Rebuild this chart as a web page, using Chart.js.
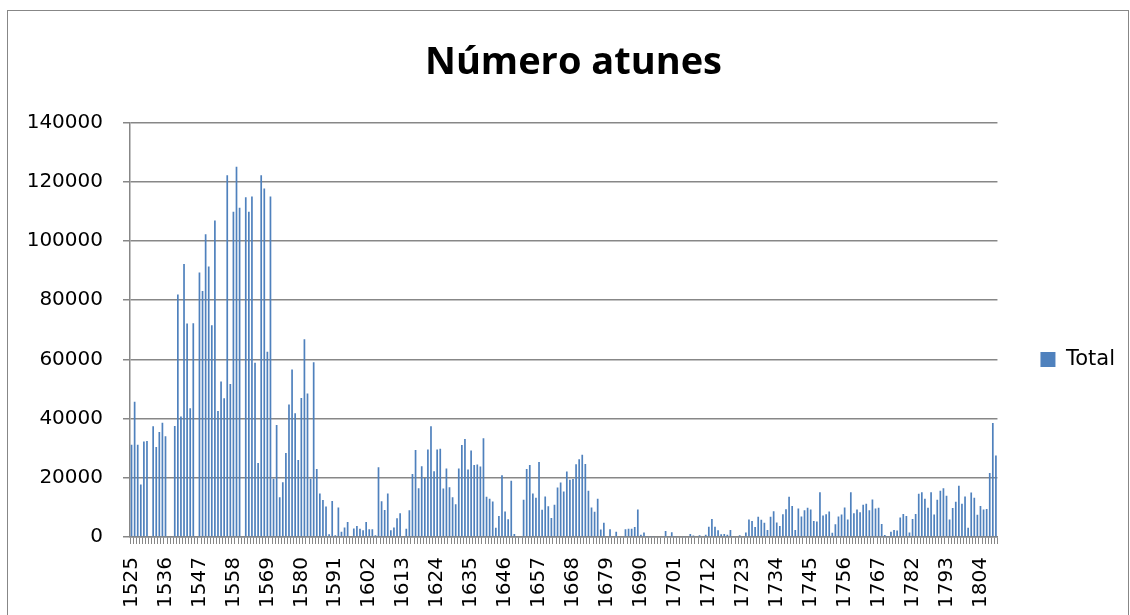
<!DOCTYPE html>
<html>
<head>
<meta charset="utf-8">
<script src="https://cdn.jsdelivr.net/npm/chart.js@4.4.1/dist/chart.umd.min.js"></script>
<style>
  html, body { margin: 0; padding: 0; background: #fff; }
  #wrap { position: relative; width: 1130px; height: 615px; overflow: hidden; }
  #frame { position: absolute; left: 7px; top: 10px; width: 1120px; height: 640px; border: 1px solid #878787; }
  #chart { position: absolute; left: 0; top: 0; }
</style>
</head>
<body>
<div id="wrap">
  <div id="frame"></div>
  <canvas id="chart" width="1130" height="615"></canvas>
</div>
<script>
// years present in the sheet (a few years around 1772-1775 are missing)
const years = [
  1525,1526,1527,1528,1529,1530,1531,1532,1533,1534,1535,1536,1537,1538,1539,1540,1541,1542,1543,1544,
  1545,1546,1547,1548,1549,1550,1551,1552,1553,1554,1555,1556,1557,1558,1559,1560,1561,1562,1563,1564,
  1565,1566,1567,1568,1569,1570,1571,1572,1573,1574,1575,1576,1577,1578,1579,1580,1581,1582,1583,1584,
  1585,1586,1587,1588,1589,1590,1591,1592,1593,1594,1595,1596,1597,1598,1599,1600,1601,1602,1603,1604,
  1605,1606,1607,1608,1609,1610,1611,1612,1613,1614,1615,1616,1617,1618,1619,1620,1621,1622,1623,1624,
  1625,1626,1627,1628,1629,1630,1631,1632,1633,1634,1635,1636,1637,1638,1639,1640,1641,1642,1643,1644,
  1645,1646,1647,1648,1649,1650,1651,1652,1653,1654,1655,1656,1657,1658,1659,1660,1661,1662,1663,1664,
  1665,1666,1667,1668,1669,1670,1671,1672,1673,1674,1675,1676,1677,1678,1679,1680,1681,1682,1683,1684,
  1685,1686,1687,1688,1689,1690,1691,1692,1693,1694,1695,1696,1697,1698,1699,1700,1701,1702,1703,1704,
  1705,1706,1707,1708,1709,1710,1711,1712,1713,1714,1715,1716,1717,1718,1719,1720,1721,1722,1723,1724,
  1725,1726,1727,1728,1729,1730,1731,1732,1733,1734,1735,1736,1737,1738,1739,1740,1741,1742,1743,1744,
  1745,1746,1747,1748,1749,1750,1751,1752,1753,1754,1755,1756,1757,1758,1759,1760,1761,1762,1763,1764,
  1765,1766,1767,1768,1769,1770,1771,1776,1777,1778,1779,1780,1781,1782,1783,1784,1785,1786,1787,1788,
  1789,1790,1791,1792,1793,1794,1795,1796,1797,1798,1799,1800,1801,1802,1803,1804,1805,1806,1807,1808,
  1809
];

const totals = [
  31200, 45700, 31200, 17700, 32300, 32400, 0, 37400, 30400, 35500, 38600, 34000,
  0, 0, 37500, 81900, 40700, 92200, 72100, 43500, 72200, 0,
  89400, 83100, 102300, 91400, 71500, 106900, 42600, 52500, 46900, 122200, 51700, 109900,
  125100, 111200, 0, 114800, 109900, 115000, 58900, 25000, 122200, 117700, 62600,
  115000, 19700, 37800, 13400, 18500, 28400, 44800, 56600, 41800, 26000, 47000,
  66800, 48500, 19700, 59000, 23000, 14700, 12500, 10300, 900, 12200, 600,
  10000, 1800, 3200, 5100, 0, 2900, 3700, 2800, 2300, 5100, 2600,
  2600, 600, 23600, 12100, 9100, 14700, 2300, 3200, 6300, 8000, 0,
  2800, 9000, 21300, 29400, 16500, 23900, 19900, 29600, 37400, 22200, 29600,
  29800, 16400, 23100, 16800, 13400, 11100, 23100, 31100, 33100, 22800, 29200,
  24300, 24500, 23800, 33400, 13600, 12900, 12000, 3100, 7100, 20900, 8600,
  6000, 19000, 1000, 0, 0, 12600, 23000, 24300, 14700, 13300, 25300,
  9200, 13700, 10400, 6400, 10900, 16700, 18400, 15400, 22100, 19300, 19600,
  24600, 26300, 27800, 24700, 15600, 10000, 8500, 12900, 2500, 4800, 0,
  2600, 0, 1800, 0, 0, 2600, 2800, 2800, 3400, 9300, 800,
  1500, 300, 300, 300, 0, 0, 0, 2000, 200, 1600, 300,
  0, 0, 300, 0, 1000, 500, 0, 600, 0, 800, 3500,
  6100, 3500, 2300, 900, 1000, 800, 2400, 300, 0, 600, 0,
  1500, 5900, 5400, 3400, 6800, 5800, 4800, 2400, 6800, 8700, 4900,
  3700, 7700, 9400, 13600, 10500, 2400, 9600, 6900, 9000, 9900, 9300,
  5400, 5200, 15100, 7300, 7700, 8600, 1400, 4300, 6900, 7600, 10000,
  5900, 15100, 8000, 9300, 8400, 10900, 11200, 9000, 12700, 9600, 9900,
  4400, 700, 300, 1800, 2400, 2200, 6600, 7800, 7100, 1500,
  6100, 7800, 14600, 15100, 12900, 9900, 15100, 7600, 12600, 15600, 16500,
  13900, 5900, 9800, 11900, 17300, 11200, 13700, 3100, 15000, 13300, 7500,
  10500, 9300, 9500, 21600, 38500, 27500
];

// year labels that Excel shows under the axis
const tickYears = [1525, 1536, 1547, 1558, 1569, 1580, 1591, 1602, 1613, 1624, 1635, 1646, 1657,
  1668, 1679, 1690, 1701, 1712, 1723, 1734, 1745, 1756, 1767, 1782, 1793, 1804];

const axisGray = '#878787';
const barBlue = '#4F81BD';

// push the legend down to sit at the middle of the frame, like Excel does
const legendShift = {
  id: 'legendShift',
  afterLayout(chart) {
    if (chart.legend) {
      chart.legend.top += 47;
      chart.legend.bottom += 47;
    }
  }
};

new Chart(document.getElementById('chart').getContext('2d'), {
  type: 'bar',
  data: {
    labels: years,
    datasets: [{
      label: 'Total',
      data: totals,
      backgroundColor: barBlue,
      borderWidth: 0,
      categoryPercentage: 1,
      barPercentage: 0.55
    }]
  },
  options: {
    responsive: false,
    animation: false,
    devicePixelRatio: 1,
    layout: { padding: { top: 10, right: 5, bottom: 0, left: 22 } },
    plugins: {
      title: {
        display: true,
        text: 'Número atunes',
        color: '#000',
        font: { family: 'Open Sans', size: 38, weight: 'bold' },
        padding: { top: 30, bottom: 37 }
      },
      legend: {
        display: true,
        position: 'right',
        labels: {
          color: '#000',
          font: { family: 'DejaVu Sans', size: 21 },
          boxWidth: 15,
          boxHeight: 15,
          padding: 43
        }
      },
      tooltip: { enabled: false }
    },
    scales: {
      x: {
        grid: {
          display: true,
          drawOnChartArea: false,
          drawTicks: true,
          tickLength: 7,
          color: axisGray,
          offset: true
        },
        border: { display: true, color: axisGray, width: 1.5 },
        ticks: {
          autoSkip: false,
          maxRotation: 90,
          minRotation: 90,
          padding: 13,
          color: '#000',
          font: { family: 'DejaVu Sans', size: 20 },
          callback: function(value, index) {
            const y = years[index];
            return tickYears.includes(y) ? String(y) : '';
          }
        },
        afterFit: function(scale) { scale.height = 78; }
      },
      y: {
        min: 0,
        max: 140000,
        grid: {
          color: axisGray,
          lineWidth: 1.5,
          tickLength: 7
        },
        border: { display: true, color: axisGray, width: 1.5 },
        ticks: {
          stepSize: 20000,
          padding: 20,
          color: '#000',
          font: { family: 'DejaVu Sans', size: 20 },
          callback: function(value) { return String(value); }
        },
        afterFit: function(scale) { scale.width = 108; }
      }
    }
  },
  plugins: [legendShift]
});
</script>
</body>
</html>
